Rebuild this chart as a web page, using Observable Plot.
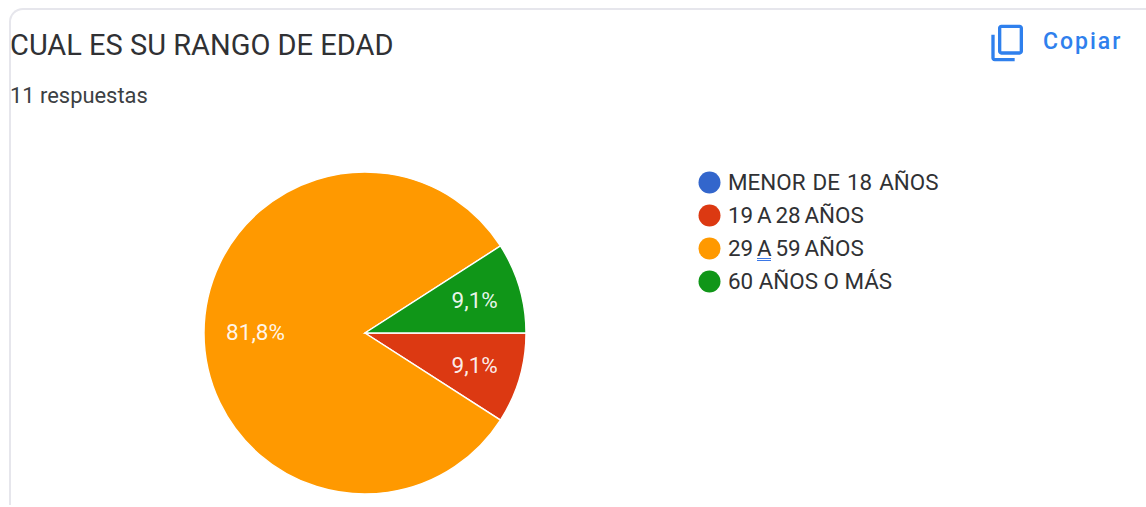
<!DOCTYPE html>
<html>
<head>
<meta charset="utf-8">
<script src="https://cdn.jsdelivr.net/npm/d3@7"></script>
<script src="https://cdn.jsdelivr.net/npm/@observablehq/plot@0.6"></script>
<style>
  html, body { margin: 0; padding: 0; background: #fff; width: 1146px; height: 507px; overflow: hidden; }
  body { position: relative; font-family: Roboto, sans-serif; }
  .abs { position: absolute; white-space: nowrap; }
  #card { left: 9px; top: 8px; width: 1150px; height: 497px; box-sizing: border-box;
          border: 2px solid #e6e6ec; border-bottom: none; border-radius: 14px 14px 0 0; }
  #title { left: 10px; top: 28px; font-size: 29px; line-height: 34px; color: #303134; }
  #sub { left: 10px; top: 83px; font-size: 21.9px; line-height: 26px; color: #3c4043; }
  #copy { left: 1043px; top: 27px; font-size: 23px; line-height: 30px; font-weight: 500; letter-spacing: 2px; color: #2f80ed; }
  #icon { left: 988px; top: 23px; }
  #under { left: 757px; top: 258px; width: 14px; height: 0; border-bottom: 3px double #3b78e7; }
  #chart { position: absolute; left: 0; top: 0; }
  #chart svg { display: block; background: transparent; }
  #chart g[aria-label="text"] text:nth-child(1) { word-spacing: 1.5px; }
  #chart g[aria-label="text"] text:nth-child(2), #chart g[aria-label="text"] text:nth-child(3) { word-spacing: -1.7px; }
</style>
</head>
<body>
<div id="card" class="abs"></div>
<div id="chart"></div>
<div id="title" class="abs">CUAL ES SU RANGO DE EDAD</div>
<div id="sub" class="abs">11 respuestas</div>
<svg id="icon" class="abs" width="40" height="40" viewBox="0 0 24 24" fill="#2f80ed"><path transform="translate(0,24) scale(1,-1)" d="M16 1H4c-1.1 0-2 .9-2 2v14h2V3h12V1zm3 4H8c-1.1 0-2 .9-2 2v14c0 1.1.9 2 2 2h11c1.1 0 2-.9 2-2V7c0-1.1-.9-2-2-2zm0 16H8V7h11v14z"/></svg>
<div id="copy" class="abs">Copiar</div>
<div id="under" class="abs"></div>
<script>
const categories = ["MENOR DE 18 AÑOS", "19 A 28 AÑOS", "29 A 59 AÑOS", "60 AÑOS O MÁS"];
const counts = [0, 1, 9, 1];
const sliceLabels = ["", "9,1%", "81,8%", "9,1%"];
const colors = ["#3366cc", "#dc3912", "#ff9900", "#109618"];

const rows = categories.map((label, i) => ({label, count: counts[i], text: sliceLabels[i]}));

function pieRender(index, scales, values, dimensions, context) {
  const cx = 365, cy = 333, radius = 161;
  const arcs = d3.pie().sort(null).value(i => rows[i].count)
    .startAngle(Math.PI / 2).endAngle(Math.PI / 2 + 2 * Math.PI)(Array.from(index));
  const arc = d3.arc().innerRadius(0).outerRadius(radius);
  const labelPoint = d => {
    const r = radius * (d.endAngle - d.startAngle > Math.PI ? 0.68 : 0.71);
    return d3.arc().innerRadius(r).outerRadius(r).centroid(d);
  };
  const g = d3.select(context.document.createElementNS("http://www.w3.org/2000/svg", "g"))
    .attr("transform", `translate(${cx},${cy})`);
  g.selectAll("path").data(arcs.filter(d => d.value > 0)).join("path")
    .attr("d", arc)
    .attr("fill", d => values.fill[d.data])
    .attr("stroke", "#fff")
    .attr("stroke-width", 1.4);
  g.selectAll("text").data(arcs.filter(d => d.value > 0)).join("text")
    .attr("transform", d => `translate(${labelPoint(d)})`)
    .attr("text-anchor", "middle")
    .attr("dy", "0.33em")
    .attr("fill", "#fff")
    .attr("fill-opacity", 0.92)
    .attr("font-family", "Roboto, sans-serif")
    .attr("font-size", 22.5)
    .text(d => rows[d.data].text);
  return g.node();
}

const chart = Plot.plot({
  width: 1146,
  height: 507,
  margin: 0,
  style: {background: "transparent"},
  y: {type: "point", domain: categories, range: [181, 282], padding: 0, axis: null},
  color: {domain: categories, range: colors},
  marks: [
    Plot.dot(rows, {y: "label", fill: "label", render: pieRender}),
    Plot.dot(categories, {
      y: d => d, fill: d => d, r: 11, frameAnchor: "left", dx: 709
    }),
    Plot.text(categories, {
      y: d => d, text: d => d, frameAnchor: "left", textAnchor: "start", dx: 727.5,
      fontSize: 22.4, fontFamily: "Roboto, sans-serif", fill: "#303134"
    })
  ]
});
document.getElementById("chart").appendChild(chart);
</script>
</body>
</html>
